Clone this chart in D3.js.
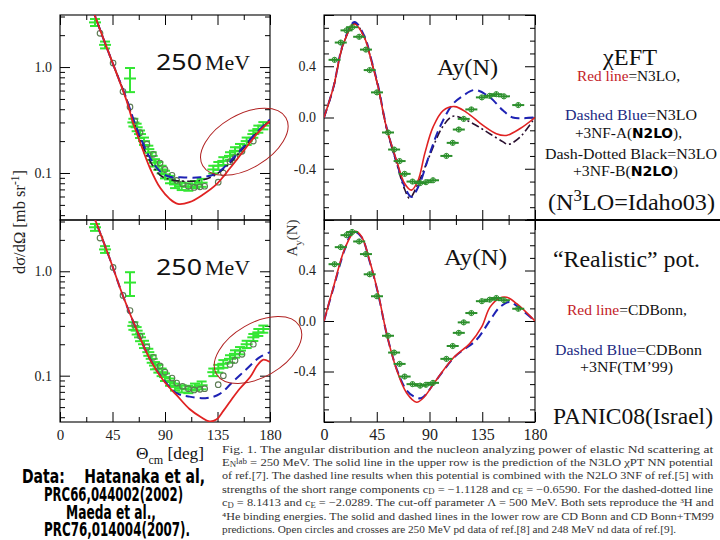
<!DOCTYPE html>
<html><head><meta charset="utf-8">
<script src="https://cdn.jsdelivr.net/npm/d3@7"></script>
<style>body{margin:0;background:#fff}</style>
</head><body>
<svg id="c" width="720" height="540"></svg>
<script>
// ================= DATA =================
const xMajorTicks = [0, 45, 90, 135, 180];
const xMinorTicks = [22.5, 67.5, 112.5, 157.5];
const dsMajorTicks = [0.1, 1.0];
const dsTickLabels = ["0.1", "1.0"];
const dsMinorTicks = [0.04,0.05,0.06,0.07,0.08,0.09,0.2,0.3,0.4,0.5,0.6,0.7,0.8,0.9,2,3];
const ayMajorTicks = [-0.8, -0.4, 0, 0.4, 0.8];
const ayLabelTicks = [-0.4, 0, 0.4];
const ayTickLabels = ["-0.4", "0.0", "0.4"];
const ayMinorTicks = [-0.7,-0.6,-0.5,-0.3,-0.2,-0.1,0.1,0.2,0.3,0.5,0.6,0.7];

// dσ/dΩ, upper row (chiral EFT)
const dsN3loTheta = [28, 35, 45, 57, 63, 69, 77, 86, 94, 101, 111, 123, 134, 146, 157, 169, 180];
const dsN3loVal   = [3.5, 2.15, 1.1, 0.485, 0.29, 0.19, 0.112, 0.072, 0.057, 0.051, 0.053, 0.063, 0.078, 0.112, 0.16, 0.235, 0.31];
const dsN3loATheta = [28, 35, 45, 57, 63, 69, 77, 86, 94, 103, 120, 134, 143, 154, 166, 180];
const dsN3loAVal   = [3.5, 2.15, 1.1, 0.5, 0.32, 0.215, 0.14, 0.103, 0.092, 0.091, 0.091, 0.099, 0.12, 0.16, 0.226, 0.32];
const dsN3loBTheta = [28, 35, 45, 57, 63, 69, 77, 86, 94, 103, 120, 131, 143, 154, 166, 180];
const dsN3loBVal   = [3.5, 2.15, 1.1, 0.5, 0.31, 0.205, 0.13, 0.095, 0.087, 0.084, 0.085, 0.093, 0.116, 0.157, 0.222, 0.315];
// dσ/dΩ, lower row (CD Bonn)
const dsCdbTheta = [28, 43, 54, 66, 77, 88.6, 100, 111, 121, 128, 134, 140, 146, 154, 163, 169, 174, 180];
const dsCdbVal   = [3.6, 1.29, 0.58, 0.27, 0.144, 0.09, 0.065, 0.048, 0.040, 0.0365, 0.038, 0.046, 0.057, 0.075, 0.097, 0.125, 0.142, 0.135];
const dsCdbTmTheta = [28, 43, 54, 66, 77, 88.6, 100, 111, 126, 137, 148, 160, 171, 180];
const dsCdbTmVal   = [3.6, 1.29, 0.58, 0.27, 0.145, 0.092, 0.068, 0.063, 0.061, 0.067, 0.087, 0.116, 0.15, 0.168];
// dσ/dΩ data: nd crosses (Maeda) and pd open circles (Hatanaka)
const ndDsTheta = [30, 38.6, 60, 62.9, 65.7, 68.6, 72, 75.7, 78.6, 81.4, 84.3, 87.1, 90, 94.3, 98.6, 104.3, 110, 115.7, 121.4, 131.4, 135.7, 140, 145.7, 150, 154.3, 160, 165.7, 170, 174.3];
const ndDsVal   = [2.64, 1.62, 0.78, 0.30, 0.27, 0.233, 0.2, 0.168, 0.145, 0.125, 0.117, 0.108, 0.097, 0.087, 0.078, 0.075, 0.074, 0.078, 0.081, 0.108, 0.117, 0.13, 0.145, 0.162, 0.174, 0.2, 0.233, 0.26, 0.28];
const ndDsErr   = [0.2, 0.12, 0.2, 0.025, 0.022, 0.019, 0.016, 0.013, 0.012, 0.01, 0.01, 0.009, 0.008, 0.007, 0.006, 0.006, 0.006, 0.006, 0.007, 0.009, 0.01, 0.011, 0.012, 0.013, 0.014, 0.016, 0.018, 0.02, 0.022];
const pdDsTheta = [34.3, 45.5, 54, 60, 64, 68.6, 74.5, 80, 85.7, 90, 96, 100, 105, 110, 115, 120, 124, 135.6, 140, 145.7, 150, 156, 165.7];
const pdDsVal   = [2.08, 1.09, 0.587, 0.42, 0.31, 0.24, 0.187, 0.15, 0.124, 0.108, 0.095, 0.085, 0.079, 0.075, 0.073, 0.074, 0.075, 0.082, 0.1, 0.128, 0.14, 0.16, 0.2];

// Ay(N), upper row
const ayN3loTheta = [0, 8, 16.3, 26, 34.7, 40.4, 46, 53.2, 61.7, 68.8, 74.6, 80.3, 86, 93, 101.6, 111.6, 121.5, 135.7, 147, 155.5, 167, 180];
const ayN3loVal   = [0, 0.235, 0.57, 0.73, 0.62, 0.44, 0.245, -0.075, -0.33, -0.515, -0.567, -0.49, -0.28, -0.075, 0.054, 0.085, 0.04, -0.062, -0.127, -0.14, -0.088, 0];
const ayN3loATheta = [0, 8, 16.3, 26, 34.7, 40.4, 46, 53.2, 61.7, 68.8, 74.6, 81, 90.3, 98.8, 110, 118.7, 128.6, 141.4, 152.8, 161, 170, 180];
const ayN3loAVal   = [0, 0.235, 0.575, 0.745, 0.63, 0.45, 0.255, -0.07, -0.34, -0.54, -0.62, -0.53, -0.28, -0.075, 0.106, 0.17, 0.215, 0.158, 0.054, 0.0, -0.005, 0];
const ayN3loBTheta = [0, 8, 16.3, 26, 34.7, 40.4, 46, 53.2, 61.7, 68.8, 73, 80, 90, 101, 110, 118.7, 130, 141.4, 152.8, 157, 167, 180];
const ayN3loBVal   = [0, 0.23, 0.565, 0.735, 0.62, 0.44, 0.245, -0.08, -0.35, -0.56, -0.63, -0.52, -0.3, -0.075, 0.01, -0.01, -0.062, -0.127, -0.19, -0.21, -0.155, 0];
// Ay(N), lower row
const ayCdbTheta = [0, 8, 18, 26.4, 32, 39, 46.3, 53.4, 62, 70.5, 79, 84.7, 96, 110, 124.5, 134.5, 141.6, 150, 155.9, 164.4, 180];
const ayCdbVal   = [0, 0.267, 0.58, 0.71, 0.67, 0.476, 0.215, -0.1, -0.387, -0.57, -0.643, -0.61, -0.465, -0.295, -0.177, -0.047, 0.11, 0.183, 0.188, 0.137, 0];
const ayCdbTmTheta = [0, 8, 18, 25, 32, 39, 46.3, 53.4, 62, 70.5, 77, 83.3, 96, 112, 130, 141.6, 150, 158.7, 164.4, 180];
const ayCdbTmVal   = [0, 0.26, 0.575, 0.71, 0.665, 0.47, 0.21, -0.1, -0.38, -0.55, -0.6, -0.61, -0.465, -0.28, -0.15, 0.005, 0.11, 0.15, 0.12, 0];
// Ay(N) data
const ayDataTheta = [9, 14.3, 19.2, 24, 30, 35.8, 39, 45.2, 54.6, 59.8, 64.5, 68.8, 75.5, 82, 87, 93, 104.4, 109.8, 115, 119.2, 125.7, 134.7, 141.4, 147, 153.5, 165.7];
const ayDataVal   = [0.45, 0.585, 0.68, 0.705, 0.63, 0.53, 0.37, 0.196, -0.117, -0.25, -0.34, -0.44, -0.5, -0.512, -0.505, -0.49, -0.3, -0.198, -0.094, -0.011, 0.063, 0.157, 0.169, 0.182, 0.165, 0.097];

// ================= DRAWING =================
const svg = d3.select('#c');
const SERIF = "'Liberation Serif','Times New Roman',serif";
const NARROW = "'Liberation Sans Narrow','DejaVu Sans Condensed','DejaVu Sans',sans-serif";
const RED = '#e02222', BLUE = '#1e22b4', BLACK = '#2a1030';
const NDGREEN = '#33e633', PDCIRC = '#5b7a52', AYGREEN = '#2b8f2b';

const xL = d3.scaleLinear().domain([0,180]).range([60,270]);
const xR = d3.scaleLinear().domain([0,180]).range([324,535]);
const dsTop = d3.scaleLog().domain([0.036,3.1]).range([220,15]);
const dsBot = d3.scaleLog().domain([0.036,3.1]).range([422,220]);
const ayTop = d3.scaleLinear().domain([-0.8,0.8]).range([220,15]);
const ayBot = d3.scaleLinear().domain([-0.8,0.8]).range([422,220]);

function rich(t, str, size, subK, supK) {
  subK = subK || 0.3; supK = supK || 0.38;
  const parts = str.split(/(_\{[^}]*\}|\^\{[^}]*\})/).filter(s => s.length);
  let off = 0;
  parts.forEach(p => {
    let target = 0, txt = p, fs = size;
    if (p.startsWith('_{')) { target = size*subK; txt = p.slice(2,-1); fs = size*0.7; }
    else if (p.startsWith('^{')) { target = -size*supK; txt = p.slice(2,-1); fs = size*0.7; }
    t.append('tspan').attr('dy', target - off).attr('font-size', fs).text(txt);
    off = target;
  });
}

let clipId = 0;
function panel(x, y, yMaj, yMin, labVals, labTxt, showX, xFont) {
  const g = svg.append('g');
  const [x0,x1] = x.range(); const [y1,y0] = y.range();
  const id = 'clip' + (clipId++);
  svg.append('clipPath').attr('id', id).append('rect').attr('x',x0).attr('y',y0).attr('width',x1-x0).attr('height',y1-y0);
  const style = a => { a.selectAll('.domain').remove(); a.selectAll('line').attr('stroke','#000').attr('stroke-width',1); };
  style(g.append('g').attr('transform',`translate(0,${y1})`).call(d3.axisBottom(x).tickValues(xMinorTicks).tickSize(-5).tickFormat('')));
  style(g.append('g').attr('transform',`translate(0,${y0})`).call(d3.axisTop(x).tickValues(xMinorTicks).tickSize(-5).tickFormat('')));
  style(g.append('g').attr('transform',`translate(0,${y0})`).call(d3.axisTop(x).tickValues(xMajorTicks).tickSize(-10).tickFormat('')));
  const bx = g.append('g').attr('transform',`translate(0,${y1})`).call(d3.axisBottom(x).tickValues(xMajorTicks).tickSize(-10).tickPadding(7).tickFormat(d => showX ? String(d) : ''));
  style(bx);
  bx.selectAll('text').attr('font-family',SERIF).attr('font-size',xFont).attr('fill','#222');
  style(g.append('g').attr('transform',`translate(${x0},0)`).call(d3.axisLeft(y).tickValues(yMin).tickSize(-5).tickFormat('')));
  style(g.append('g').attr('transform',`translate(${x1},0)`).call(d3.axisRight(y).tickValues(yMin).tickSize(-5).tickFormat('')));
  style(g.append('g').attr('transform',`translate(${x1},0)`).call(d3.axisRight(y).tickValues(yMaj).tickSize(-10).tickFormat('')));
  style(g.append('g').attr('transform',`translate(${x0},0)`).call(d3.axisLeft(y).tickValues(yMaj).tickSize(-10).tickFormat('')));
  const ly = g.append('g').attr('transform',`translate(${x0},0)`).call(d3.axisLeft(y).tickValues(labVals).tickSize(0).tickPadding(8).tickFormat((d,i) => labTxt[i]));
  ly.selectAll('.domain').remove();
  ly.selectAll('text').attr('font-family',SERIF).attr('font-size',14).attr('fill','#222');
  g.append('rect').attr('x',x0).attr('y',y0).attr('width',x1-x0).attr('height',y1-y0).attr('fill','none').attr('stroke','#000').attr('stroke-width',1.1);
  return 'url(#' + id + ')';
}

function curve(clip, x, y, th, v, color, dash, w) {
  const line = d3.line().x((d,i) => x(th[i])).y(d => y(d)).curve(d3.curveCatmullRom.alpha(0.5));
  svg.append('path').attr('clip-path', clip).attr('d', line(v)).attr('fill','none')
    .attr('stroke', color).attr('stroke-width', w || 1.8).attr('stroke-dasharray', dash || null);
}

function ndCrosses(clip, x, y) {
  const g = svg.append('g').attr('clip-path', clip).attr('stroke', NDGREEN).attr('stroke-width', 2);
  ndDsVal.forEach((v,i) => {
    const cx = x(ndDsTheta[i]), cy = y(v), lo = y(v - ndDsErr[i]), hi = y(v + ndDsErr[i]);
    g.append('line').attr('x1',cx).attr('x2',cx).attr('y1',lo).attr('y2',hi);
    g.append('line').attr('x1',cx-5).attr('x2',cx+5).attr('y1',lo).attr('y2',lo);
    g.append('line').attr('x1',cx-5).attr('x2',cx+5).attr('y1',hi).attr('y2',hi);
    g.append('line').attr('x1',cx-6).attr('x2',cx+6).attr('y1',cy).attr('y2',cy);
  });
}
function pdCircles(clip, x, y) {
  svg.append('g').attr('clip-path', clip).selectAll('circle').data(pdDsVal).join('circle')
    .attr('cx',(d,i) => x(pdDsTheta[i])).attr('cy', d => y(d)).attr('r', 2.8)
    .attr('fill','none').attr('stroke', PDCIRC).attr('stroke-width', 1.1);
}
function ayPoints(clip, x, y) {
  const g = svg.append('g').attr('clip-path', clip).attr('stroke', AYGREEN).attr('fill','none');
  ayDataVal.forEach((v,i) => {
    const cx = x(ayDataTheta[i]), cy = y(v);
    g.append('line').attr('x1',cx-6).attr('x2',cx+6).attr('y1',cy).attr('y2',cy).attr('stroke-width',2);
    g.append('line').attr('x1',cx).attr('x2',cx).attr('y1',cy-2.5).attr('y2',cy+2.5).attr('stroke-width',1.5);
    g.append('circle').attr('cx',cx).attr('cy',cy).attr('r',2.6).attr('stroke-width',1);
  });
}

// ---- panels ----
const cTL = panel(xL, dsTop, dsMajorTicks, dsMinorTicks, dsMajorTicks, dsTickLabels, false, 15);
const cBL = panel(xL, dsBot, dsMajorTicks, dsMinorTicks, dsMajorTicks, dsTickLabels, true, 15);
const cTR = panel(xR, ayTop, ayMajorTicks, ayMinorTicks, ayLabelTicks, ayTickLabels, false, 16);
const cBR = panel(xR, ayBot, ayMajorTicks, ayMinorTicks, ayLabelTicks, ayTickLabels, true, 16);

ndCrosses(cTL, xL, dsTop); pdCircles(cTL, xL, dsTop);
curve(cTL, xL, dsTop, dsN3loBTheta, dsN3loBVal, BLACK, '8,3,2,3', 1.6);
curve(cTL, xL, dsTop, dsN3loATheta, dsN3loAVal, BLUE, '9,5', 2);
curve(cTL, xL, dsTop, dsN3loTheta, dsN3loVal, RED, null, 1.8);
ndCrosses(cBL, xL, dsBot); pdCircles(cBL, xL, dsBot);
curve(cBL, xL, dsBot, dsCdbTmTheta, dsCdbTmVal, BLUE, '9,5', 2);
curve(cBL, xL, dsBot, dsCdbTheta, dsCdbVal, RED, null, 1.8);
curve(cTR, xR, ayTop, ayN3loBTheta, ayN3loBVal, BLACK, '8,3,2,3', 1.6);
curve(cTR, xR, ayTop, ayN3loATheta, ayN3loAVal, BLUE, '9,5', 2);
curve(cTR, xR, ayTop, ayN3loTheta, ayN3loVal, RED, null, 1.6);
ayPoints(cTR, xR, ayTop);
curve(cBR, xR, ayBot, ayCdbTmTheta, ayCdbTmVal, BLUE, '9,5', 2);
curve(cBR, xR, ayBot, ayCdbTheta, ayCdbVal, RED, null, 1.6);
ayPoints(cBR, xR, ayBot);

// ellipses highlighting backward angles
[[dsTop, 158, 0.197], [dsBot, 169.7, 0.176]].forEach(([ys, th, v]) => {
  svg.append('ellipse').attr('transform', `translate(${xL(th)},${ys(v)}) rotate(-30)`)
    .attr('rx', 48).attr('ry', 27).attr('fill','none').attr('stroke','#b02020').attr('stroke-width',1);
});

// ---- texts ----
function txt(x, y, size, str, opts = {}) {
  const t = svg.append('text').attr('x',x).attr('y',y).attr('font-family',opts.font || SERIF)
    .attr('font-size',size).attr('fill',opts.fill || '#111');
  if (str) t.text(str);
  if (opts.weight) t.attr('font-weight', opts.weight);
  if (opts.stretch) t.attr('font-stretch', opts.stretch);
  if (opts.anchor) t.attr('text-anchor', opts.anchor);
  if (opts.len) t.attr('textLength', opts.len).attr('lengthAdjust','spacingAndGlyphs');
  return t;
}
[70, 275].forEach(by => {
  txt(156, by, 21, '250', {font: "'Noto Sans','DejaVu Sans',sans-serif", len: 46});
  txt(205, by, 22, 'MeV', {len: 45});
});
txt(437, 75, 23, 'Ay(N)', {len: 61});
txt(444, 265, 23, 'Ay(N)', {len: 63});

const yt = svg.append('text').attr('transform','translate(25,222) rotate(-90)').attr('text-anchor','middle')
  .attr('font-family',SERIF).attr('font-size',16.5).attr('fill','#222');
rich(yt, 'dσ/dΩ [mb sr^{-1}]', 16.5);
const at = svg.append('text').attr('transform','translate(297,238) rotate(-90)').attr('text-anchor','middle')
  .attr('font-family',SERIF).attr('font-size',15).attr('fill','#333');
rich(at, 'A_{y}(N)', 15);
const xt = svg.append('text').attr('x',136).attr('y',459).attr('font-family',SERIF).attr('font-size',17).attr('fill','#111')
  .attr('textLength', 68).attr('lengthAdjust','spacingAndGlyphs');
rich(xt, 'Θ_{cm} [deg]', 17);

const NAVY = '#1c2a82', TRED = '#c42228';
function multi(x, y, size, parts, len) {
  const t = txt(x, y, size, '', {len});
  parts.forEach(p => {
    const s = t.append('tspan').text(p[0]).attr('fill', p[1] || '#111');
    if (p[2]) s.attr('font-family', NARROW).attr('font-weight','bold').attr('font-stretch','condensed');
  });
  return t;
}
txt(603, 65, 23, 'χEFT', {len: 54});
multi(577, 81, 14, [['Red line', TRED], ['=N3LO,']], 103);
multi(565, 120, 14, [['Dashed Blue', NAVY], ['=N3LO']], 132);
multi(575, 138, 14, [['+3NF-A('], ['N2LO', '#000', true], ['),']], 107);
multi(545, 159, 14, [['Dash-Dotted Black=N3LO']], 172);
multi(573, 176, 14, [['+3NF-B('], ['N2LO', '#000', true], [')']], 105);
const nt = txt(548, 210, 24, '', {len: 167}); rich(nt, '(N^{3}LO=Idaho03)', 24);
svg.append('line').attr('x1',527).attr('x2',720).attr('y1',220).attr('y2',220).attr('stroke','#000').attr('stroke-width',2.2);
txt(553, 267, 24, '“Realistic” pot.', {len: 147});
multi(567, 315, 14, [['Red line', TRED], ['=CDBonn,']], 120);
multi(555, 355, 14, [['Dashed Blue', NAVY], ['=CDBonn']], 147);
multi(580, 372, 14, [['+3NF(TM’99)']], 93);
txt(553, 424, 24, 'PANIC08(Israel)', {len: 160});

// ---- data credits ----
const creditLines = ['Data:    Hatanaka et al,', 'PRC66,044002(2002)', 'Maeda et al.,', 'PRC76,014004(2007).'];
const creditBox = [[22, 483, 183], [44, 501, 139], [66, 519, 90], [44, 536, 146]];
creditLines.forEach((s, i) => {
  const [x, y, l] = creditBox[i];
  txt(x, y, 19, s, {font: NARROW, weight: 'bold', stretch: 'condensed', fill: '#000', len: l}).style('white-space','pre');
});

// ---- caption (scaled horizontally to the justified width) ----
const capLines = [
  'Fig. 1. The angular distribution and the nucleon analyzing power of elastic Nd scattering at',
  'E_{N}^{lab} = 250 MeV. The solid line in the upper row is the prediction of the N3LO χPT NN potential',
  'of ref.[7]. The dashed line results when this potential is combined with the N2LO 3NF of ref.[5] with',
  'strengths of the short range components c_{D} = −1.1128 and c_{E} = −0.6590. For the dashed-dotted line',
  'c_{D} = 8.1413 and c_{E} = −2.0289. The cut-off parameter Λ = 500 MeV. Both sets reproduce the ³H and',
  '⁴He binding energies. The solid and dashed lines in the lower row are CD Bonn and CD Bonn+TM99',
  'predictions. Open circles and crosses are 250 MeV pd data of ref.[8] and 248 MeV nd data of ref.[9].'
];
capLines.forEach((s, i) => {
  const y = 452.5 + i*13.4, target = i === 6 ? 455 : 492;
  const t = svg.append('text').attr('x', 0).attr('y', 0).attr('font-family', SERIF)
    .attr('font-size', 10.5).attr('fill', '#333');
  rich(t, s, 10.5, 0.15, 0.22);
  const w = t.node().getComputedTextLength() || target;
  t.attr('transform', `translate(222,${y}) scale(${target / w},1)`);
});
</script>
</body></html>
